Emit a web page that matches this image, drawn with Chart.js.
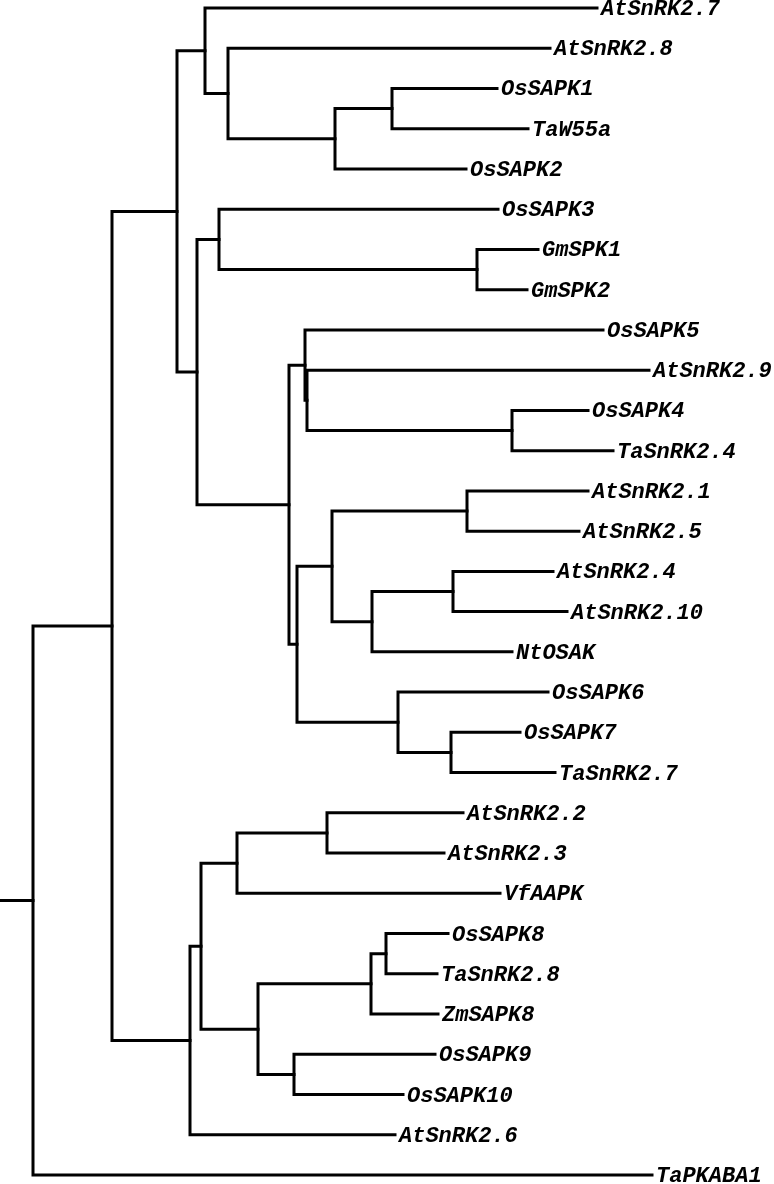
<!DOCTYPE html>
<html>
<head>
<meta charset="utf-8">
<script src="https://cdn.jsdelivr.net/npm/chart.js@4"></script>
<style>
  html, body { margin: 0; padding: 0; background: #fff; }
  #wrap { width: 774px; height: 1184px; }
</style>
</head>
<body>
<div id="wrap"><canvas id="tree" width="774" height="1184"></canvas></div>
<script>
// leaves, top to bottom
const leafNames = [
  "AtSnRK2.7", "AtSnRK2.8", "OsSAPK1", "TaW55a", "OsSAPK2", "OsSAPK3",
  "GmSPK1", "GmSPK2", "OsSAPK5", "AtSnRK2.9", "OsSAPK4", "TaSnRK2.4",
  "AtSnRK2.1", "AtSnRK2.5", "AtSnRK2.4", "AtSnRK2.10", "NtOSAK", "OsSAPK6",
  "OsSAPK7", "TaSnRK2.7", "AtSnRK2.2", "AtSnRK2.3", "VfAAPK", "OsSAPK8",
  "TaSnRK2.8", "ZmSAPK8", "OsSAPK9", "OsSAPK10", "AtSnRK2.6", "TaPKABA1"
];
// distance of each tip from the root
const leafDepth = [
  564, 517, 464, 495, 433, 465,
  505, 494, 570, 616, 555, 580,
  555, 546, 520, 534, 479, 515,
  487, 522, 430, 411, 467, 415,
  404, 405, 402, 370, 362, 619
];
// internal nodes: distance from root and children ("L" = leaf, "N" = node)
const nodeDepth = [
  0, 79, 144, 172, 195, 302, 359, 164, 186, 444,
  256, 272, 274, 479, 264, 299, 434, 339, 420, 365,
  418, 157, 168, 204, 294, 225, 338, 353, 261
];
const nodeChildren = [
  ["N1", "L29"], ["N2", "N21"], ["N3", "N7"], ["L0", "N4"], ["L1", "N5"],
  ["N6", "L4"], ["L2", "L3"], ["N8", "N10"], ["L5", "N9"], ["L6", "L7"],
  ["N11", "N14"], ["L8", "N12"], ["L9", "N13"], ["L10", "L11"], ["N15", "N19"],
  ["N16", "N17"], ["L12", "L13"], ["N18", "L16"], ["L14", "L15"], ["L17", "N20"],
  ["L18", "L19"], ["N22", "L28"], ["N23", "N25"], ["N24", "L22"], ["L20", "L21"],
  ["N26", "N28"], ["N27", "L25"], ["L23", "L24"], ["L26", "L27"]
];
const rootStub = 33;

function depthOf(ref) {
  const i = parseInt(ref.slice(1));
  return ref[0] === "L" ? leafDepth[i] : nodeDepth[i];
}
function rowOf(ref) {
  const i = parseInt(ref.slice(1));
  if (ref[0] === "L") return i;
  const kids = nodeChildren[i];
  return (rowOf(kids[0]) + rowOf(kids[kids.length - 1])) / 2;
}

const datasets = [];
nodeChildren.forEach(function (kids, i) {
  const a = kids[0], b = kids[kids.length - 1];
  datasets.push({
    data: [
      { x: depthOf(a), y: rowOf(a) },
      { x: nodeDepth[i], y: rowOf(a) },
      { x: nodeDepth[i], y: rowOf(b) },
      { x: depthOf(b), y: rowOf(b) }
    ]
  });
});
// root stub
datasets.push({
  data: [{ x: -rootStub, y: rowOf("N0") }, { x: 0, y: rowOf("N0") }]
});
datasets.forEach(function (ds) {
  ds.showLine = true;
  ds.borderColor = "#000";
  ds.borderWidth = 3;
  ds.pointRadius = 0;
  ds.tension = 0;
  ds.fill = false;
  ds.clip = false;
  ds.borderJoinStyle = "miter";
  ds.borderCapStyle = "square";
});

const labelFont = "italic bold 22px 'Liberation Mono'";
const leafLabels = {
  id: "leafLabels",
  afterDatasetsDraw(chart) {
    const ctx = chart.ctx;
    const xs = chart.scales.x, ys = chart.scales.y;
    ctx.save();
    ctx.fillStyle = "#000";
    ctx.font = labelFont;
    ctx.textBaseline = "alphabetic";
    ctx.textAlign = "left";
    leafNames.forEach(function (name, i) {
      const px = xs.getPixelForValue(leafDepth[i]) + 4;
      const py = ys.getPixelForValue(i) + 7;
      ctx.fillText(name, px, py);
    });
    ctx.restore();
  }
};

new Chart(document.getElementById("tree").getContext("2d"), {
  type: "scatter",
  data: { datasets: datasets },
  options: {
    responsive: false,
    animation: false,
    events: [],
    layout: { padding: { top: 8, bottom: 9, left: 0, right: 0 } },
    scales: {
      x: { type: "linear", min: -rootStub, max: 741, display: false },
      y: { type: "linear", min: 0, max: leafNames.length - 1, reverse: true, display: false }
    },
    plugins: { legend: { display: false }, tooltip: { enabled: false } }
  },
  plugins: [leafLabels]
});
</script>
</body>
</html>
